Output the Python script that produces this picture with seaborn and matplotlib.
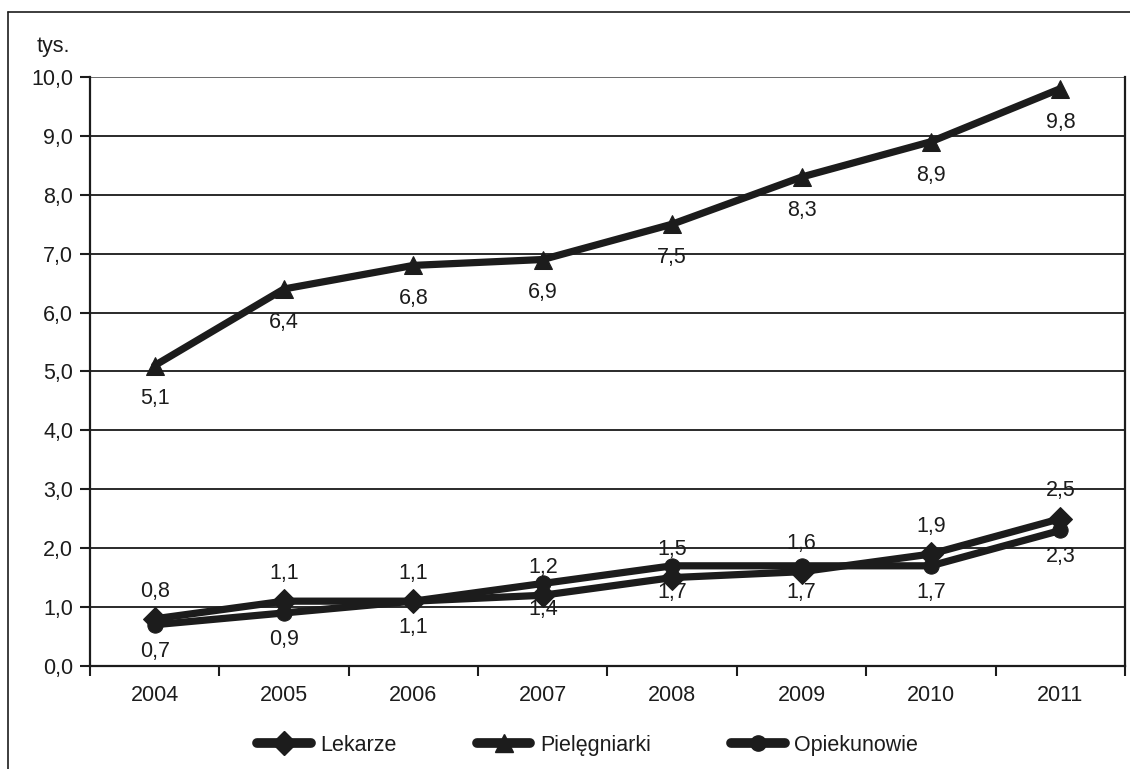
import matplotlib
matplotlib.use("Agg")
import matplotlib.pyplot as plt
from matplotlib.lines import Line2D
import seaborn as sns
import pandas as pd

years = ["2004", "2005", "2006", "2007", "2008", "2009", "2010", "2011"]
lekarze = [0.8, 1.1, 1.1, 1.2, 1.5, 1.6, 1.9, 2.5]
pielegniarki = [5.1, 6.4, 6.8, 6.9, 7.5, 8.3, 8.9, 9.8]
opiekunowie = [0.7, 0.9, 1.1, 1.4, 1.7, 1.7, 1.7, 2.3]
y_ticks = [0, 1, 2, 3, 4, 5, 6, 7, 8, 9, 10]

sns.set_theme(style="white")
plt.rcParams["font.family"] = ["Liberation Sans", "DejaVu Sans"]

INK = "#1c1c1c"
FS = 15.5

fig = plt.figure(figsize=(11.30, 7.69), dpi=100)
ax = fig.add_axes([0.0796, 0.134, 0.9160, 0.766])

pos = list(range(len(years)))
series = [
    ("Lekarze", lekarze, "D", 12, 20),
    ("Pielęgniarki", pielegniarki, "^", 13, -24),
    ("Opiekunowie", opiekunowie, "o", 11, -19),
]

for name, vals, mk, ms, dy in series:
    df = pd.DataFrame({"x": pos, "y": vals})
    sns.lineplot(data=df, x="x", y="y", ax=ax, color=INK, linewidth=5.2,
                 marker=mk, markersize=ms, markeredgecolor=INK,
                 markerfacecolor=INK, label=name, legend=False,
                 solid_joinstyle="round", solid_capstyle="round", zorder=3)
    for xi, v in zip(pos, vals):
        ax.annotate(f"{v:.1f}".replace(".", ","), (xi, v),
                    xytext=(0, dy), textcoords="offset points",
                    ha="center", va="center", fontsize=FS, color=INK,
                    zorder=4)

ax.set_xlim(-0.5, len(years) - 0.5)
ax.set_ylim(0, 10)
ax.set_yticks(y_ticks)
ax.set_yticklabels([f"{v:.1f}".replace(".", ",") for v in y_ticks],
                   fontsize=FS, color=INK)
ax.set_xticks(pos)
ax.set_xticklabels(years, fontsize=FS, color=INK)
ax.set_xticks([p - 0.5 for p in pos] + [len(years) - 0.5], minor=True)
ax.tick_params(axis="x", which="major", length=0, pad=14)
ax.tick_params(axis="x", which="minor", length=7, width=1.5, color=INK,
               direction="out", bottom=True)
ax.tick_params(axis="y", length=7, width=1.5, color=INK, direction="out",
               left=True, pad=5)
ax.set_xlabel("")
ax.set_ylabel("")

for v in y_ticks[1:]:
    ax.axhline(v, color="#2a2a2a" if v < 10 else "#6a6a6a", linewidth=1.4,
               zorder=1)

ax.spines["top"].set_visible(False)
for side in ("left", "bottom", "right"):
    ax.spines[side].set_color(INK)
    ax.spines[side].set_linewidth(1.6)

fig.text(37 / 1130, 0.939, "tys.", fontsize=FS, color=INK,
         ha="left", va="center")

# outer frame of the figure
fig.add_artist(Line2D([8 / 1130, 8 / 1130], [0, 1 - 12 / 769],
                      transform=fig.transFigure, color=INK, linewidth=1.2))
fig.add_artist(Line2D([8 / 1130, 1], [1 - 12 / 769, 1 - 12 / 769],
                      transform=fig.transFigure, color=INK, linewidth=1.2))

handles = [Line2D([], [], color=INK, linewidth=7, marker=mk, markersize=ms,
                  markerfacecolor=INK, markeredgecolor=INK,
                  solid_capstyle="round")
           for _, _, mk, ms, _ in series]
fig.legend(handles, [s[0] for s in series], loc="center",
           bbox_to_anchor=(0.52, 0.031), ncol=3, frameon=False,
           fontsize=FS, handlelength=2.5, handletextpad=0.45,
           columnspacing=3.7, numpoints=1, labelcolor=INK)

fig.savefig("out.png", dpi=100, facecolor="white")
